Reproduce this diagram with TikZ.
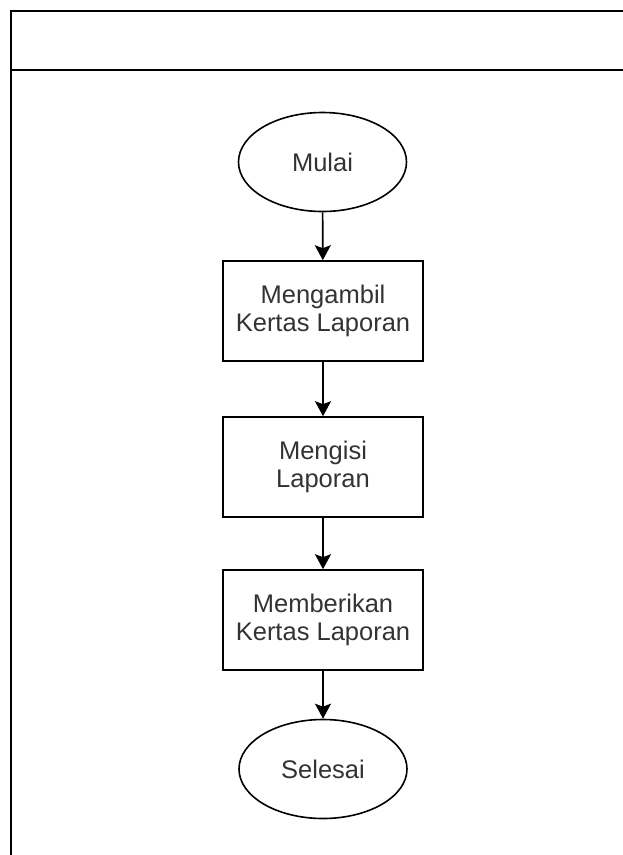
\documentclass[tikz,border=0pt]{standalone}
\usepackage{fontspec}
\setmainfont{Liberation Sans}
\usetikzlibrary{shapes.geometric,arrows.meta}
\begin{document}
\begin{tikzpicture}[x=1pt,y=-1pt,
  every node/.style={font=\fontsize{25.5}{28.5}\selectfont, text=black!80, align=center, line width=1.6pt, draw=black},
  term/.style={ellipse, minimum width=168pt, minimum height=99pt, inner sep=0pt},
  proc/.style={rectangle, minimum width=200pt, minimum height=100pt, inner sep=0pt},
  flow/.style={line width=1.6pt, -{Stealth[length=15pt,width=16pt,inset=3pt]}}]
\useasboundingbox (0,0) rectangle (623,855);
\begin{scope}
\clip (0,0) rectangle (623,855);
\draw[line width=1.6pt] (640,11) -- (11,11) -- (11,870);
\draw[line width=1.6pt] (11,70) -- (640,70);
\end{scope}
\node[term] (start) at (322.5,162) {Mulai};
\node[proc] (p1) at (323,311) {Mengambil\\Kertas Laporan};
\node[proc] (p2) at (323,467) {Mengisi\\Laporan};
\node[proc] (p3) at (323,620) {Memberikan\\Kertas Laporan};
\node[term] (end) at (323,769) {Selesai};
\draw[flow] (start) -- (p1);
\draw[flow] (p1) -- (p2);
\draw[flow] (p2) -- (p3);
\draw[flow] (p3) -- (end);
\end{tikzpicture}
\end{document}
